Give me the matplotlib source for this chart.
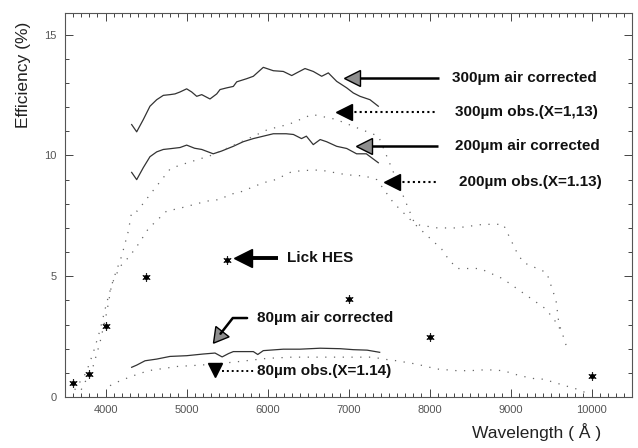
import matplotlib
matplotlib.use('Agg')
import matplotlib.pyplot as plt
from matplotlib.ticker import MultipleLocator

plt.rcParams['font.family'] = ['Liberation Sans', 'DejaVu Sans']

# ---------------- data ----------------
air300_wl = [4323, 4385, 4467, 4549, 4632, 4714, 4796, 4858, 4920, 5002, 5064, 5126,
             5188, 5290, 5373, 5414, 5496, 5578, 5620, 5743, 5825, 5948, 6072, 6195,
             6299, 6360, 6463, 6565, 6669, 6751, 6854, 6978, 7059, 7142, 7265, 7368]
air300_eff = [11.28, 10.98, 11.49, 12.04, 12.31, 12.49, 12.52, 12.55, 12.63, 12.76, 12.63, 12.45,
              12.52, 12.34, 12.55, 12.73, 12.80, 12.86, 13.05, 13.18, 13.28, 13.65, 13.51, 13.48,
              13.31, 13.42, 13.60, 13.48, 13.28, 13.42, 13.07, 12.80, 12.59, 12.45, 12.31, 12.04]

air200_wl = [4323, 4385, 4467, 4549, 4632, 4714, 4796, 4920, 5002, 5100, 5188, 5330,
             5430, 5578, 5700, 5825, 5948, 6072, 6230, 6320, 6420, 6480, 6565, 6650,
             6730, 6854, 6978, 7100, 7220, 7368]
air200_eff = [9.30, 9.00, 9.50, 9.95, 10.15, 10.25, 10.28, 10.33, 10.43, 10.30, 10.25, 10.07,
              10.18, 10.38, 10.57, 10.70, 10.80, 10.90, 10.90, 10.87, 10.70, 10.80, 10.45, 10.66,
              10.57, 10.38, 10.29, 10.07, 10.07, 9.70]

obs300_wl = [3620, 3760, 3850, 3930, 4015, 4100, 4200, 4282, 4323, 4393, 4600, 4800,
             4920, 5300, 5700, 6000, 6270, 6550, 6840, 7140, 7370, 7821, 8100, 8336,
             8664, 8911, 9077, 9158, 9447, 9562, 9611]
obs300_eff = [0.3, 1.0, 1.85, 2.74, 3.91, 4.9, 5.84, 6.87, 7.66, 7.7, 8.6, 9.45,
              9.6, 10.0, 10.6, 11.07, 11.3, 11.7, 11.5, 11.1, 10.8, 7.15, 7.0, 7.0,
              7.15, 7.15, 6.0, 5.57, 5.15, 4.0, 2.67]

obs200_wl = [3700, 3850, 3932, 4015, 4077, 4180, 4300, 4390, 4459, 4529, 4755, 4900,
             5105, 5249, 5414, 5537, 5660, 5948, 6100, 6299, 6463, 6648, 6978, 7200,
             7350, 7553, 7821, 8151, 8191, 8336, 8623, 8904, 9426, 9470, 9620, 9700]
obs200_eff = [0.3, 1.3, 2.26, 3.5, 4.67, 5.4, 5.84, 6.25, 6.6, 6.97, 7.7, 7.8,
              7.98, 8.11, 8.18, 8.39, 8.48, 8.87, 9.0, 9.33, 9.38, 9.4, 9.2, 9.15,
              9.0, 8.05, 7.15, 6.12, 5.9, 5.32, 5.32, 4.9, 3.67, 3.5, 2.84, 2.0]

air80_wl = [4323, 4385, 4488, 4632, 4796, 5002, 5207, 5352, 5440, 5520, 5578, 5660,
            5825, 5880, 5948, 6195, 6400, 6650, 6900, 7059, 7230, 7385]
air80_eff = [1.23, 1.32, 1.5, 1.57, 1.68, 1.71, 1.78, 1.82, 1.66, 1.80, 1.88, 1.88,
             1.88, 1.76, 1.92, 1.98, 1.98, 2.02, 2.0, 1.96, 1.94, 1.85]

obs80_wl = [4056, 4179, 4343, 4529, 4673, 4899, 5023, 5300, 5600, 5995, 6300, 6700,
            7000, 7300, 7430, 7595, 7842, 8089, 8336, 8500, 8706, 8911, 9117, 9323,
            9405, 9673, 9817, 9950]
obs80_eff = [0.47, 0.67, 0.88, 1.09, 1.16, 1.27, 1.29, 1.35, 1.45, 1.6, 1.65, 1.65,
             1.65, 1.65, 1.57, 1.5, 1.36, 1.16, 1.09, 1.09, 1.13, 1.09, 0.88, 0.74,
             0.74, 0.47, 0.33, 0.15]

lick_wl = [3600, 3800, 4000, 4500, 5500, 7000, 8000, 10000]
lick_eff = [0.6, 0.95, 2.95, 4.95, 5.66, 4.05, 2.5, 0.85]

x_ticks = [4000, 5000, 6000, 7000, 8000, 9000, 10000]
y_ticks = [0, 5, 10, 15]

# ---------------- figure ----------------
fig = plt.figure(figsize=(6.38, 4.48), dpi=100)
ax = fig.add_axes([65 / 638, 1 - 397 / 448, 567 / 638, 384 / 448])
ax.set_xlim(3500, 10500)
ax.set_ylim(0, 15.9)

solid_kw = dict(color='#333333', lw=0.9)
dot_kw = dict(color='#666666', lw=0.9, linestyle=(0, (1, 6)))

ax.plot(air300_wl, air300_eff, **solid_kw)
ax.plot(air200_wl, air200_eff, **solid_kw)
ax.plot(air80_wl, air80_eff, **solid_kw)
ax.plot(obs300_wl, obs300_eff, **dot_kw)
ax.plot(obs200_wl, obs200_eff, **dot_kw)
ax.plot(obs80_wl, obs80_eff, **dot_kw)
ax.plot(lick_wl, lick_eff, linestyle='none', marker=(6, 2, 0), ms=6, mew=0.8, color='#222222')
ax.plot(lick_wl, lick_eff, linestyle='none', marker='o', ms=2.6, color='black')

# ---------------- axes styling ----------------
ax.set_xticks(x_ticks)
ax.set_yticks(y_ticks)
ax.xaxis.set_minor_locator(MultipleLocator(100))
ax.yaxis.set_minor_locator(MultipleLocator(1))
ax.tick_params(which='both', direction='in', top=True, right=True, color='#444444', width=0.7)
ax.tick_params(which='major', length=6, labelsize=8, labelcolor='#555555', pad=6)
ax.tick_params(which='minor', length=3)
for s in ax.spines.values():
    s.set_color('#555555')
    s.set_linewidth(0.8)

ax.set_ylabel('Efficiency (%)', fontsize=12.5, color='#222222')
ax.yaxis.set_label_coords(-0.074, 0.84)
ax.yaxis.label.set_verticalalignment('center')
ax.set_xlabel('Wavelength ( Å )', fontsize=12.5, color='#222222')
ax.xaxis.set_label_coords(0.831, -0.091)
ax.xaxis.label.set_verticalalignment('center')

# ---------------- annotations ----------------
txt_kw = dict(fontsize=11, fontweight='bold', color='#111111', va='center', ha='left')
head_gray = dict(marker='<', ms=11, mfc='#8e8e8e', mec='black', mew=1.0, linestyle='none')
head_black = dict(marker='<', ms=11, mfc='black', mec='black', mew=1.0, linestyle='none')
HALF = 80  # half head length in wavelength units


def arrow(tip_x, tail_x, y, head, ls, lw):
    ax.plot([tip_x + HALF, tail_x], [y, y], color='black', lw=lw, linestyle=ls,
            solid_capstyle='butt')
    ax.plot([tip_x + HALF], [y], **head)


arrow(6958, 8119, 13.22, head_gray, '-', 1.8)
ax.text(8279, 13.22, '300µm air corrected', **txt_kw)

arrow(6859, 8094, 11.81, head_black, (0, (1, 1.5)), 1.5)
ax.text(8316, 11.81, '300µm obs.(X=1,13)', **txt_kw)

arrow(7106, 8106, 10.40, head_gray, '-', 1.8)
ax.text(8316, 10.40, '200µm air corrected', **txt_kw)

arrow(7452, 8094, 8.91, head_black, (0, (1, 1.5)), 1.5)
ax.text(8366, 8.91, '200µm obs.(X=1.13)', **txt_kw)

ax.plot([5600 + 95, 6131], [5.76, 5.76], color='black', lw=2.8, solid_capstyle='butt')
ax.plot([5600 + 95], [5.76], marker='<', ms=13, color='black', linestyle='none')
ax.text(6242, 5.76, 'Lick HES', **txt_kw)

# bent arrow for the 80um air corrected label
ax.annotate('', xy=(5420, 2.62), xytext=(5748, 3.27),
            arrowprops=dict(arrowstyle='-', lw=1.8, color='black', shrinkA=0, shrinkB=0,
                            connectionstyle='angle,angleA=0,angleB=52,rad=0'))
ax.plot([5405], [2.58], marker=(3, 0, 142), ms=14, mfc='#8e8e8e', mec='black', mew=1.0,
        linestyle='none')
ax.text(5871, 3.27, '80µm air corrected', **txt_kw)

ax.plot([5440, 5847], [1.08, 1.08], color='black', lw=1.4, linestyle=(0, (1, 1.5)))
ax.plot([5353], [1.12], marker='v', ms=10, color='black', linestyle='none')
ax.text(5871, 1.08, '80µm obs.(X=1.14)', **txt_kw)

fig.savefig('out.png', dpi=100)
